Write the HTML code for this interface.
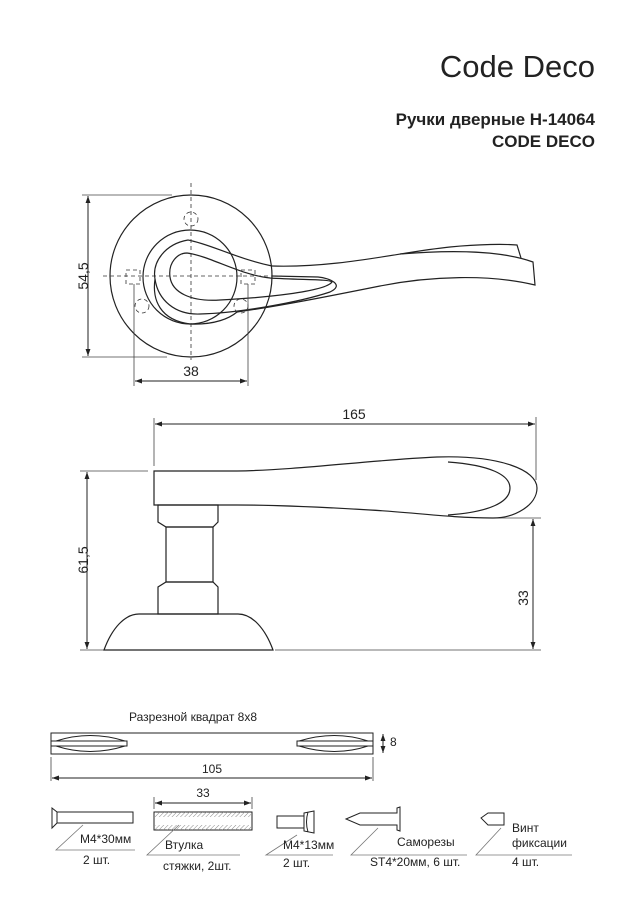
<!DOCTYPE html>
<html><head><meta charset="utf-8"><style>
html,body{margin:0;padding:0;background:#fff}
svg{display:block}
text{font-family:"Liberation Sans",sans-serif;fill:#222}
</style></head><body>
<svg width="636" height="900" viewBox="0 0 636 900" xmlns="http://www.w3.org/2000/svg">
<defs>
<marker id="a" viewBox="0 0 10 10" refX="10" refY="5" markerWidth="7" markerHeight="7" orient="auto-start-reverse"><path d="M0,1.5 L10,5 L0,8.5 Z" fill="#222"/></marker>
<pattern id="h" width="3" height="3" patternUnits="userSpaceOnUse" patternTransform="rotate(45)"><line x1="0" y1="0" x2="0" y2="3" stroke="#888" stroke-width="1"/></pattern>
</defs>
<text x="595" y="77" font-size="31" text-anchor="end" style="font-weight:300" fill="#111">Code Deco</text>
<text x="595" y="125" font-size="17" font-weight="bold" text-anchor="end">Ручки дверные H-14064</text>
<text x="595" y="147" font-size="17" font-weight="bold" text-anchor="end">CODE DECO</text>

<g fill="none" stroke="#222" stroke-width="1.2">
<circle cx="191" cy="276" r="81"/>
<circle cx="190" cy="277" r="47"/>
<path d="M272,266 C340,268 400,252 450,247 C480,244 505,244 517,245 L521,258"/>
<path d="M400,254 C450,250 500,250 533,262 L535,285 C490,274 430,276 380,286 C330,296 280,306 237,312"/>
<path d="M188,240 C165,244 152,262 155,279 C158,300 175,315 200,314 C240,313 300,302 330,292 C345,285 330,278 318,277 L272,276"/>
<path d="M188,240 C210,244 235,258 272,266"/>
<path d="M170,277 C168,262 178,253 187,253 C210,256 240,275 270,278 C300,280 330,279 332,282 C325,292 260,298 220,300 C190,302 172,292 170,277 Z"/>
<path d="M155,279 C152,300 160,320 190,324 C215,325 230,318 237,312" />
</g>
<g fill="none" stroke="#333" stroke-width="0.8" stroke-dasharray="4,3">
<line x1="103" y1="276" x2="282" y2="276"/>
<line x1="191" y1="183" x2="191" y2="360"/>
<circle cx="191" cy="219" r="7"/><circle cx="142" cy="306" r="7"/><circle cx="241" cy="306" r="7"/>
<rect x="126" y="270" width="14" height="14"/><rect x="241" y="270" width="14" height="14"/>
</g>
<g stroke="#444" stroke-width="0.8" fill="none">
<line x1="82" y1="195" x2="172" y2="195"/><line x1="82" y1="357" x2="167" y2="357"/>
<line x1="134" y1="284" x2="134" y2="386"/><line x1="248" y1="284" x2="248" y2="386"/>
<line x1="154" y1="418" x2="154" y2="466"/><line x1="536" y1="417" x2="536" y2="480"/>
<line x1="80" y1="471" x2="148" y2="471"/><line x1="80" y1="650" x2="104" y2="650"/>
<line x1="492" y1="518" x2="541" y2="518"/><line x1="275" y1="650" x2="541" y2="650"/>
</g>
<g stroke="#222" stroke-width="1" fill="none" marker-start="url(#a)" marker-end="url(#a)">
<line x1="88" y1="196" x2="88" y2="356"/>
<line x1="135" y1="381" x2="247" y2="381"/>
<line x1="155" y1="424" x2="535" y2="424"/>
<line x1="87" y1="472" x2="87" y2="649"/>
<line x1="533" y1="519" x2="533" y2="649"/>
</g>
<text x="83" y="276" font-size="14" text-anchor="middle" transform="rotate(-90 83 276)" dy="5">54,5</text>
<text x="191" y="376" font-size="14" text-anchor="middle">38</text>
<text x="354" y="419" font-size="14" text-anchor="middle">165</text>
<text x="83" y="560" font-size="14" text-anchor="middle" transform="rotate(-90 83 560)" dy="5">61,5</text>
<text x="523" y="598" font-size="14" text-anchor="middle" transform="rotate(-90 523 598)" dy="5">33</text>

<g fill="none" stroke="#222" stroke-width="1.2">
<path d="M154,471 L237,471 C300,470 370,460 437,457 C500,455 537,470 537,488 C537,505 515,518 493,518 C450,518 410,512 370,510 C320,507 270,505 237,505 L154,505 Z"/>
<path d="M448,462 C490,465 510,475 510,488 C510,502 490,512 448,515"/>
<path d="M158,505 L218,505 L218,522 L213,527 L166,527 L158,522 Z"/>
<rect x="166" y="527" width="47" height="55"/>
<path d="M166,582 L213,582 L218,587 L218,614 L158,614 L158,587 Z"/>
<path d="M104,650 C112,628 125,614 139,614 L238,614 C252,614 265,628 273,650 Z"/>
</g>

<text x="129" y="721" font-size="12">Разрезной квадрат 8х8</text>
<g fill="none" stroke="#222" stroke-width="1">
<rect x="51" y="733" width="322" height="21"/>
<rect x="51" y="741" width="76" height="5"/>
<rect x="297" y="741" width="76" height="5"/>
<path d="M56,741 Q90,730 125,741 M56,746 Q90,757 125,746 M299,741 Q335,730 368,741 M299,746 Q335,757 368,746"/>
</g>
<g stroke="#444" stroke-width="0.8"><line x1="51" y1="757" x2="51" y2="781"/><line x1="373" y1="757" x2="373" y2="781"/>
<line x1="154" y1="797" x2="154" y2="809"/><line x1="252" y1="797" x2="252" y2="809"/></g>
<g stroke="#222" stroke-width="1" marker-start="url(#a)" marker-end="url(#a)">
<line x1="383" y1="734" x2="383" y2="753"/>
<line x1="52" y1="778" x2="372" y2="778"/>
<line x1="155" y1="803" x2="251" y2="803"/>
</g>
<text x="390" y="746" font-size="12">8</text>
<text x="212" y="773" font-size="12" text-anchor="middle">105</text>
<text x="203" y="797" font-size="12" text-anchor="middle">33</text>

<g fill="none" stroke="#222" stroke-width="1">
<path d="M52,808 L57,812 L57,823 L52,828 Z"/>
<rect x="57" y="812" width="76" height="11"/>
<rect x="154" y="812" width="98" height="18"/>
<rect x="277" y="816" width="27" height="12"/>
<path d="M304,813 L314,811 L314,833 L304,831 Z M308,812 Q305,822 308,832"/>
<path d="M346,819 L360,813 L397,813 L397,808 L400,807 L400,831 L397,830 L397,825 L360,825 Z"/>
<path d="M481,818 L488,813 L504,813 L504,825 L488,825 Z"/>
</g>
<rect x="155" y="812" width="96" height="5" fill="url(#h)"/>
<rect x="155" y="825" width="96" height="5" fill="url(#h)"/>
<g fill="none" stroke="#777" stroke-width="0.8">
<polyline points="83,825 56,850 135,850"/>
<polyline points="179,825 147,855 240,855"/>
<polyline points="297,835 266,855 333,855"/>
<polyline points="378,828 351,855 467,855"/>
<polyline points="501,828 476,855 572,855"/>
</g>
<g font-size="12">
<text x="80" y="843">M4*30мм</text><text x="83" y="864">2 шт.</text>
<text x="165" y="849">Втулка</text><text x="163" y="870">стяжки, 2шт.</text>
<text x="283" y="849">M4*13мм</text><text x="283" y="867">2 шт.</text>
<text x="397" y="846">Саморезы</text><text x="370" y="866">ST4*20мм, 6 шт.</text>
<text x="512" y="832">Винт</text><text x="512" y="847">фиксации</text><text x="512" y="866">4 шт.</text>
</g>
</svg>
</body></html>
